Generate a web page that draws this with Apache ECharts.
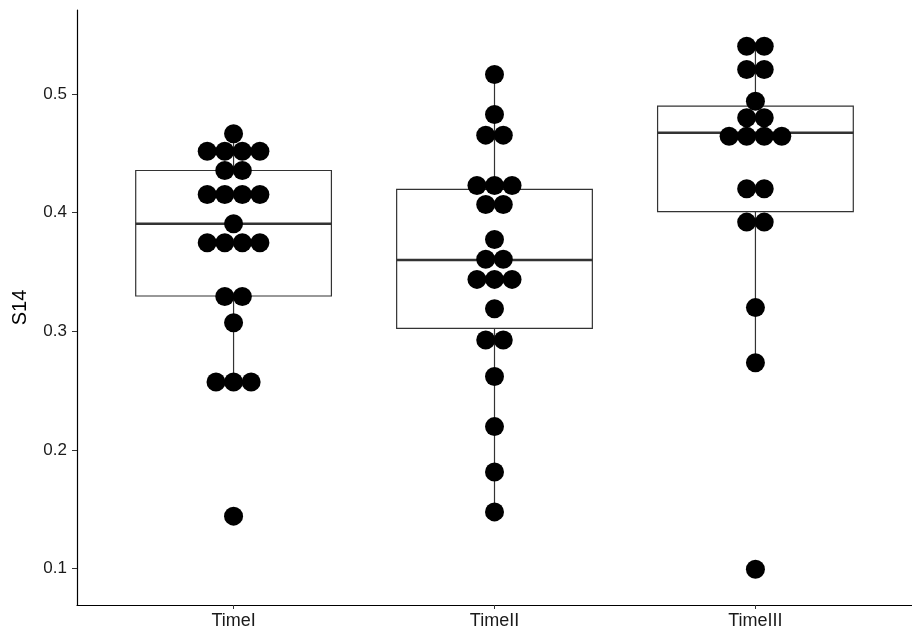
<!DOCTYPE html>
<html>
<head>
<meta charset="utf-8">
<script src="https://cdn.jsdelivr.net/npm/echarts@6/dist/echarts.min.js"></script>
<style>
  html, body { margin: 0; padding: 0; background: #ffffff; }
  #chart { width: 912px; height: 630px; }
</style>
</head>
<body>
<div id="chart"></div>
<script>
// Groups on the horizontal axis
const categories = ['TimeI', 'TimeII', 'TimeIII'];
const yTicks = [0.1, 0.2, 0.3, 0.4, 0.5];

// Observed S14 values per group (equal values are stacked side by side)
const timeIValues = [
  0.4665,
  0.4518, 0.4518, 0.4518, 0.4518,
  0.4355, 0.4355,
  0.4153, 0.4153, 0.4153, 0.4153,
  0.3906,
  0.3746, 0.3746, 0.3746, 0.3746,
  0.3292, 0.3292,
  0.3072,
  0.2572, 0.2572, 0.2572,
  0.1441
];
const timeIIValues = [
  0.5164,
  0.4827,
  0.4653, 0.4653,
  0.4229, 0.4229, 0.4229,
  0.4069, 0.4069,
  0.3774,
  0.3606, 0.3606,
  0.3437, 0.3437, 0.3437,
  0.3190,
  0.2926, 0.2926,
  0.2618,
  0.2196,
  0.1814,
  0.1477
];
const timeIIIValues = [
  0.5403, 0.5403,
  0.5206, 0.5206,
  0.4939,
  0.4799, 0.4799,
  0.4644, 0.4644, 0.4644, 0.4644,
  0.4201, 0.4201,
  0.3920, 0.3920,
  0.3199,
  0.2735,
  0.0994
];

// Box statistics: [lower whisker, Q1, median, Q3, upper whisker]
const timeIBox = [0.2572, 0.3297, 0.3906, 0.4355, 0.4665];
const timeIIBox = [0.1477, 0.3024, 0.3600, 0.4195, 0.5164];
const timeIIIBox = [0.2735, 0.4008, 0.4673, 0.4897, 0.5403];

const groupValues = [timeIValues, timeIIValues, timeIIIValues];
const groupBoxes = [timeIBox, timeIIBox, timeIIIBox];

const BOX_WIDTH = 0.75;      // in group units
const DOT_STEP = 0.0673;     // horizontal spacing between stacked dots, in group units
const DOT_SIZE = 19;

// Centre-stacked dot layout: dots sharing a value spread out around the group position
function stackDots(values, pos) {
  const counts = new Map();
  values.forEach(v => counts.set(v, (counts.get(v) || 0) + 1));
  const pts = [];
  counts.forEach((n, v) => {
    for (let i = 0; i < n; i++) {
      pts.push([pos + (i - (n - 1) / 2) * DOT_STEP, v]);
    }
  });
  return pts;
}

const dotData = [];
groupValues.forEach((vals, gi) => {
  stackDots(vals, gi + 1).forEach(p => dotData.push(p));
});

const boxData = groupBoxes.map((b, gi) => [gi + 1].concat(b));

const LINE = '#333333';

function renderBox(params, api) {
  const x = api.value(0);
  const lo = api.value(1), q1 = api.value(2), med = api.value(3), q3 = api.value(4), hi = api.value(5);
  const half = api.size([BOX_WIDTH, 0])[0] / 2;
  const pHi = api.coord([x, hi]);
  const pQ3 = api.coord([x, q3]);
  const pMed = api.coord([x, med]);
  const pQ1 = api.coord([x, q1]);
  const pLo = api.coord([x, lo]);
  const cx = pHi[0];
  return {
    type: 'group',
    children: [
      { type: 'line', shape: { x1: cx, y1: pHi[1], x2: cx, y2: pQ3[1] },
        style: { stroke: LINE, lineWidth: 1.2 } },
      { type: 'line', shape: { x1: cx, y1: pQ1[1], x2: cx, y2: pLo[1] },
        style: { stroke: LINE, lineWidth: 1.2 } },
      { type: 'rect', shape: { x: cx - half, y: pQ3[1], width: 2 * half, height: pQ1[1] - pQ3[1] },
        style: { fill: '#ffffff', stroke: LINE, lineWidth: 1.2 } },
      { type: 'line', shape: { x1: cx - half, y1: pMed[1], x2: cx + half, y2: pMed[1] },
        style: { stroke: LINE, lineWidth: 2.6 } }
    ]
  };
}

const chart = echarts.init(document.getElementById('chart'), null, { renderer: 'canvas' });

chart.setOption({
  animation: false,
  backgroundColor: '#ffffff',
  textStyle: { fontFamily: 'Liberation Sans, Arial, sans-serif' },
  grid: { left: 77, top: 10, width: 837, bottom: 24, containLabel: false },
  xAxis: {
    type: 'value',
    min: 0.4,
    max: 3.6,
    splitLine: { show: false },
    axisLine: { show: true, onZero: false, lineStyle: { color: '#000000', width: 1.2 } },
    axisTick: { show: true, length: 4, customValues: [1, 2, 3], lineStyle: { color: '#333333', width: 1 } },
    axisLabel: {
      customValues: [1, 2, 3],
      formatter: v => categories[Math.round(v) - 1] || '',
      color: '#1a1a1a',
      fontSize: 18,
      margin: 7
    }
  },
  yAxis: {
    type: 'value',
    min: 0.0692,
    max: 0.5708,
    name: 'S14',
    nameLocation: 'middle',
    nameRotate: 90,
    nameGap: 47,
    nameTextStyle: { color: '#000000', fontSize: 20 },
    splitLine: { show: false },
    axisLine: { show: true, onZero: false, lineStyle: { color: '#000000', width: 1.2 } },
    axisTick: { show: true, length: 5, customValues: yTicks, lineStyle: { color: '#333333', width: 1 } },
    axisLabel: {
      customValues: yTicks,
      formatter: v => v.toFixed(1),
      color: '#1a1a1a',
      fontSize: 17,
      margin: 10
    }
  },
  series: [
    {
      type: 'custom',
      renderItem: renderBox,
      encode: { x: 0, y: [1, 2, 3, 4, 5] },
      data: boxData,
      z: 1,
      silent: true
    },
    {
      type: 'scatter',
      data: dotData,
      symbol: 'circle',
      symbolSize: DOT_SIZE,
      itemStyle: { color: '#000000', opacity: 1 },
      z: 2,
      silent: true
    }
  ]
});
</script>
</body>
</html>
